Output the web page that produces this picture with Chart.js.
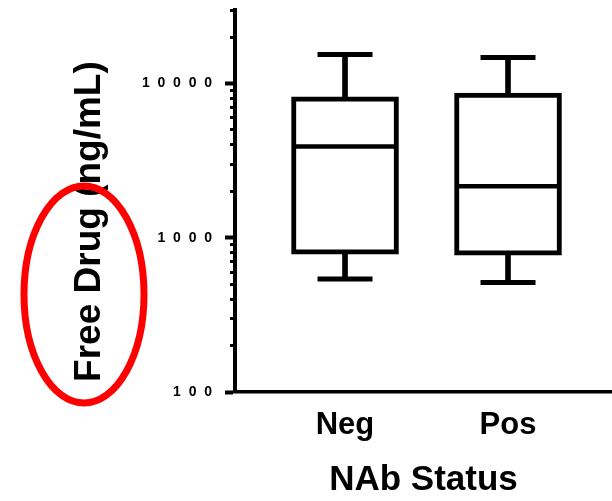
<!DOCTYPE html>
<html>
<head>
<meta charset="utf-8">
<script src="https://cdn.jsdelivr.net/npm/chart.js@4.4.0/dist/chart.umd.min.js"></script>
<style>
  html, body { margin: 0; padding: 0; background: #fff; }
  #wrap { width: 612px; height: 501px; }
</style>
</head>
<body>
<div id="wrap"><canvas id="chart" width="612" height="501"></canvas></div>
<script>
// NAb status groups
var categories = ['Neg', 'Pos'];

// box plot values (ng/mL)
var whiskerLow = [540, 513];
var quartile1 = [782, 770];
var medians = [3910, 2158];
var quartile3 = [8190, 8690];
var whiskerHigh = [15450, 14760];

// log axis ticks, only the decades get a label
var yTicks = [100, 200, 300, 400, 500, 600, 700, 800, 900,
              1000, 2000, 3000, 4000, 5000, 6000, 7000, 8000, 9000,
              10000, 20000, 30000];
var yLabelled = [100, 1000, 10000];

var FONT = "'Liberation Sans', Arial, sans-serif";
Chart.defaults.font.family = FONT;
Chart.defaults.color = '#000';

function isMajor(v) { return yLabelled.indexOf(v) >= 0; }

// red hand-drawn style ellipse over the axis title
var circleNote = {
    id: 'circleNote',
    afterDraw: function(chart) {
        var ctx = chart.ctx;
        ctx.save();
        ctx.strokeStyle = '#ff0000';
        ctx.lineWidth = 7;
        ctx.beginPath();
        ctx.ellipse(84, 294.5, 60, 108.5, 0, 0, Math.PI * 2);
        ctx.stroke();
        ctx.restore();
    }
};

function points(values) {
    return categories.map(function(c, i) { return { x: i, y: values[i] }; });
}

var ctx = document.getElementById('chart').getContext('2d');
var chart = new Chart(ctx, {
    type: 'bar',
    data: {
        datasets: [
            { // median line
                type: 'scatter', data: points(medians),
                pointStyle: 'line', radius: 53, borderWidth: 4.5,
                borderColor: '#000', backgroundColor: '#000'
            },
            { // top caps
                type: 'scatter', data: points(whiskerHigh),
                pointStyle: 'line', radius: 27.5, borderWidth: 5,
                borderColor: '#000', backgroundColor: '#000'
            },
            { // bottom caps
                type: 'scatter', data: points(whiskerLow),
                pointStyle: 'line', radius: 27.5, borderWidth: 5,
                borderColor: '#000', backgroundColor: '#000'
            },
            { // boxes
                data: categories.map(function(c, i) { return { x: i, y: [quartile1[i], quartile3[i]] }; }),
                backgroundColor: '#fff', borderColor: '#000', borderWidth: 5,
                borderSkipped: false, barThickness: 107, grouped: false
            },
            { // upper whisker
                data: categories.map(function(c, i) { return { x: i, y: [quartile3[i], whiskerHigh[i]] }; }),
                backgroundColor: '#000', borderWidth: 0, barThickness: 5, grouped: false
            },
            { // lower whisker
                data: categories.map(function(c, i) { return { x: i, y: [whiskerLow[i], quartile1[i]] }; }),
                backgroundColor: '#000', borderWidth: 0, barThickness: 5, grouped: false
            }
        ]
    },
    options: {
        responsive: false,
        animation: false,
        events: [],
        layout: { autoPadding: false, padding: { top: 10, right: 0, bottom: 0, left: 0 } },
        plugins: { legend: { display: false }, tooltip: { enabled: false } },
        scales: {
            x: {
                type: 'linear',
                offset: false,
                min: -0.675,
                max: 1.638,
                afterBuildTicks: function(scale) {
                    scale.ticks = categories.map(function(c, i) { return { value: i }; });
                },
                afterFit: function(scale) {
                    scale.height = 109;
                    scale.paddingLeft = 0;
                    scale.paddingRight = 0;
                },
                grid: { display: false, offset: false },
                border: { display: true, color: '#000', width: 3.5 },
                ticks: {
                    callback: function(v) { return categories[v] !== undefined ? categories[v] : ''; },
                    font: { size: 31, weight: 'bold', lineHeight: 1 },
                    padding: 10,
                    maxRotation: 0,
                    autoSkip: false
                },
                title: {
                    display: true,
                    text: 'NAb Status',
                    font: { size: 35, weight: 'bold', lineHeight: 1 },
                    padding: { top: 0, bottom: 3 }
                }
            },
            y: {
                type: 'logarithmic',
                min: 100,
                max: 30000,
                afterBuildTicks: function(scale) {
                    scale.ticks = yTicks.map(function(v) { return { value: v, major: false }; });
                },
                afterFit: function(scale) {
                    scale.width = 235;
                    scale.paddingTop = 0;
                    scale.paddingBottom = 0;
                },
                border: { display: true, color: '#000', width: 4 },
                grid: {
                    drawOnChartArea: false,
                    drawTicks: true,
                    tickLength: 10,
                    tickColor: '#000',
                    tickWidth: function(c) { return c.tick && isMajor(c.tick.value) ? 4 : 3; },
                    tickBorderDash: function(c) { return c.tick && isMajor(c.tick.value) ? [] : [6, 100]; },
                    tickBorderDashOffset: function(c) { return c.tick && isMajor(c.tick.value) ? 0 : 101; }
                },
                ticks: {
                    autoSkip: false,
                    padding: 13,
                    font: { size: 14, weight: 'bold' },
                    callback: function(v) {
                        return isMajor(v) ? String(v).split('').join('  ') : '';
                    }
                },
                title: {
                    display: true,
                    text: 'Free Drug (ng/mL)    ',
                    font: { size: 37, weight: 'bold', lineHeight: 1 },
                    padding: { top: 71, bottom: 0 }
                }
            }
        }
    },
    plugins: [circleNote]
});
</script>
</body>
</html>
